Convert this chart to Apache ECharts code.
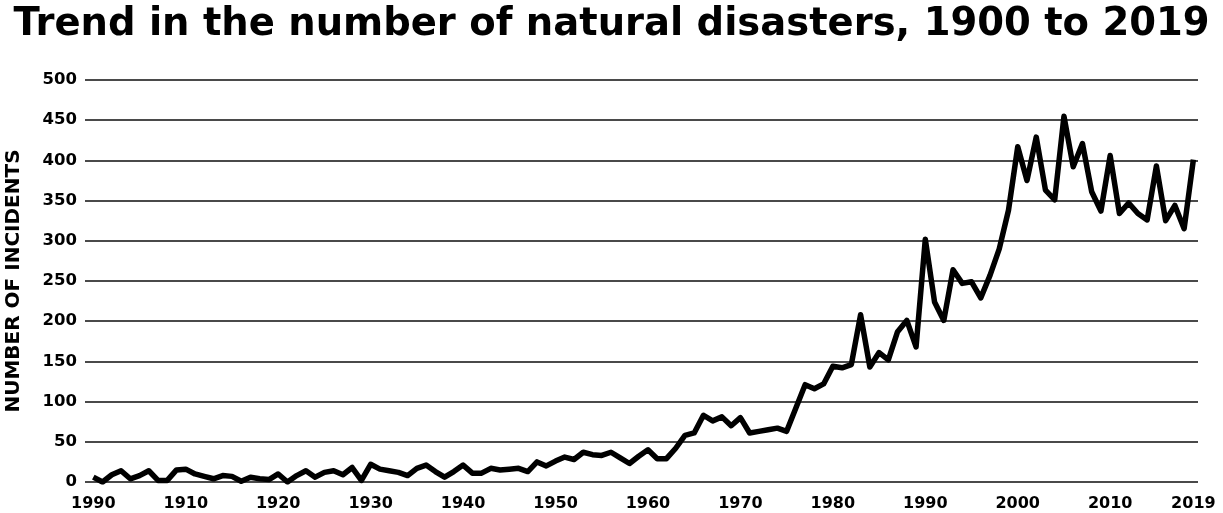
<!DOCTYPE html>
<html>
<head>
<meta charset="utf-8">
<script src="https://cdn.jsdelivr.net/npm/echarts@6/dist/echarts.min.js"></script>
<style>
  html, body { margin: 0; padding: 0; background: #fff; }
  #chart { width: 1223px; height: 513px; }
</style>
</head>
<body>
<div id="chart"></div>
<script>
// years 1900..2019
const years = [];
for (let y = 1900; y <= 2019; y++) years.push(y);

// number of incidents per year
const incidents = [
  6, 0, 9, 14, 4, 8, 14, 2, 2, 15,
  16, 10, 7, 4, 8, 7, 1, 6, 4, 3,
  10, 0, 8, 14, 6, 12, 14, 9, 18, 2,
  22, 16, 14, 12, 8, 17, 21, 13, 6, 13,
  21, 11, 11, 17, 15, 16, 17, 13, 25, 20,
  26, 31, 28, 37, 34, 33, 37, 30, 23, 32,
  40, 29, 29, 42, 58, 61, 83, 76, 81, 70,
  80, 61, 63, 65, 67, 63, 92, 121, 116, 122,
  144, 142, 146, 208, 143, 161, 152, 187, 201, 168,
  302, 224, 201, 264, 247, 249, 229, 257, 290, 338,
  417, 375, 429, 363, 351, 455, 392, 421, 361, 337,
  406, 334, 347, 334, 326, 393, 325, 344, 315, 401
];

// x tick positions and the labels as printed (first one reads "1990" in the original)
const xTicks = [1900, 1910, 1920, 1930, 1940, 1950, 1960, 1970, 1980, 1990, 2000, 2010, 2019];
const xTickLabels = ['1990', '1910', '1920', '1930', '1940', '1950', '1960', '1970', '1980', '1990', '2000', '2010', '2019'];

const chart = echarts.init(document.getElementById('chart'));

chart.setOption({
  animation: false,
  backgroundColor: '#fff',
  title: {
    text: 'Trend in the number of natural disasters, 1900 to 2019',
    left: 'center',
    top: 0,
    textStyle: {
      fontFamily: 'DejaVu Sans',
      fontWeight: 'bold',
      fontSize: 38.5,
      color: '#000'
    }
  },
  grid: {
    left: 85,
    right: 25,
    top: 80,
    bottom: 31,
    outerBoundsMode: 'none'
  },
  xAxis: {
    type: 'value',
    min: 1899.1,
    max: 2019.5,
    axisLine: { show: false },
    axisTick: { show: false },
    axisLabel: {
      customValues: xTicks,
      formatter: v => xTickLabels[xTicks.indexOf(v)],
      margin: 14,
      color: '#000',
      fontFamily: 'DejaVu Sans',
      fontWeight: 'bold',
      fontSize: 16
    },
    splitLine: { show: false }
  },
  yAxis: {
    type: 'value',
    min: 0,
    max: 500,
    interval: 50,
    name: 'NUMBER OF INCIDENTS',
    nameLocation: 'middle',
    nameGap: 61,
    nameTextStyle: {
      fontFamily: 'DejaVu Sans',
      fontWeight: 'bold',
      fontSize: 20,
      color: '#000'
    },
    axisLine: { show: false },
    axisTick: { show: false },
    axisLabel: {
      margin: 8,
      color: '#000',
      fontFamily: 'DejaVu Sans',
      fontWeight: 'bold',
      fontSize: 16.5
    },
    splitLine: {
      lineStyle: { color: '#4a4a4a', width: 2 }
    }
  },
  series: [{
    type: 'line',
    data: years.map((y, i) => [y, incidents[i]]),
    showSymbol: false,
    lineStyle: { color: '#000', width: 5.5, join: 'round' }
  }]
});
</script>
</body>
</html>
